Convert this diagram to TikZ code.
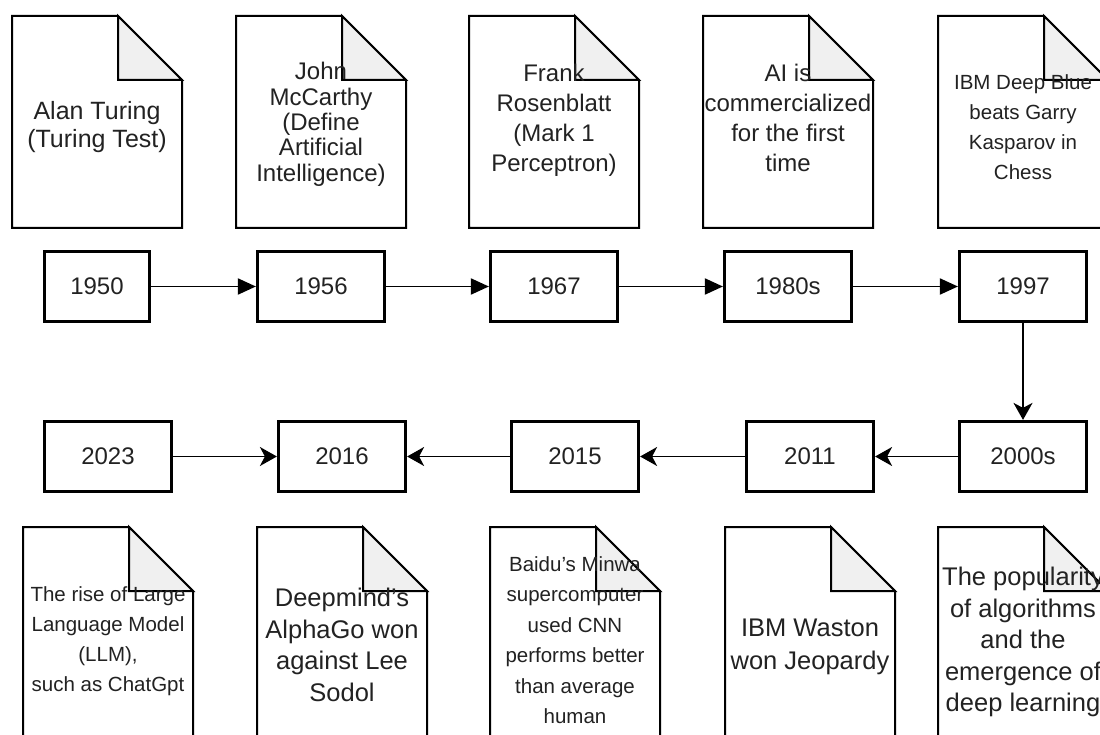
\documentclass[tikz,border=0pt]{standalone}
\usepackage{fontspec}
\setmainfont{Liberation Sans}
\usetikzlibrary{arrows.meta, positioning}
\definecolor{foldgray}{RGB}{240,240,240}
\definecolor{inkgray}{RGB}{34,34,34}
\tikzstyle{yearbox} = [rectangle, draw, line width=3.2pt, minimum height=70pt, text=inkgray, font=\fontsize{24}{26}\selectfont]
\tikzstyle{notepage} = [draw, line width=2pt, fill=white]
\tikzstyle{notefold} = [draw, line width=2pt, fill=foldgray]
\tikzstyle{bigtext} = [align=center, text=inkgray, font=\fontsize{24}{30}\selectfont]
\tikzstyle{midtext} = [align=center, text=inkgray, font=\fontsize{25.5}{31.5}\selectfont]
\tikzstyle{smalltext} = [align=center, text=inkgray, font=\fontsize{20.5}{30.5}\selectfont]
\tikzstyle{fwd} = [draw, line width=1.9pt, -{Triangle[length=18pt,width=16pt]}]
\tikzstyle{back} = [draw, line width=1.9pt, -{Stealth[length=17pt,width=19pt,inset=5pt]}]

% sheet with folded corner, #1,#2 = top left corner
\newcommand{\notesheet}[2]{
	\path [notepage] (#1,#2) -- ++(106,0) -- ++(64,64) -- ++(0,148) -- ++(-170,0) -- cycle;
	\path [notefold] (#1+106,#2) -- ++(0,64) -- ++(64,0) -- cycle;
}

\begin{document}
\begin{tikzpicture}[x=1pt, y=-1pt]
			\useasboundingbox (0,0) rectangle (1100,735);
			
			% first row
			\node [yearbox, minimum width=105pt] (y1950) at (97,286.5) {1950};
			\node [yearbox, minimum width=127pt] (y1956) at (321,286.5) {1956};
			\node [yearbox, minimum width=127pt] (y1967) at (554,286.5) {1967};
			\node [yearbox, minimum width=127pt] (y1980) at (788,286.5) {1980s};
			\node [yearbox, minimum width=127pt] (y1997) at (1023,286.5) {1997};
			
			% second row
			\node [yearbox, minimum width=127pt] (y2023) at (108,456.5) {2023};
			\node [yearbox, minimum width=127pt] (y2016) at (342,456.5) {2016};
			\node [yearbox, minimum width=127pt] (y2015) at (575,456.5) {2015};
			\node [yearbox, minimum width=127pt] (y2011) at (810,456.5) {2011};
			\node [yearbox, minimum width=127pt] (y2000) at (1023,456.5) {2000s};
			
			% top sheets
			\notesheet{12}{16}
			\node [bigtext, font=\fontsize{25}{28}\selectfont] (turing) at (97,127.5) {Alan Turing\\(Turing Test)};
			\notesheet{236}{16}
			\node [bigtext, font=\fontsize{24}{25.3}\selectfont] (mccarthy) at (321,124.3) {John\\McCarthy\\(Define\\Artificial\\Intelligence)};
			\notesheet{469}{16}
			\node [bigtext] (rosenblatt) at (554,120.3) {Frank\\Rosenblatt\\(Mark 1\\Perceptron)};
			\notesheet{703}{16}
			\node [bigtext] (commercial) at (788,117.8) {AI is\\commercialized\\for the first\\time};
			\notesheet{938}{16}
			\node [smalltext, font=\fontsize{20.5}{30}\selectfont] (deepblue) at (1023,127) {IBM Deep Blue\\beats Garry\\Kasparov in\\Chess};
			
			% bottom sheets
			\notesheet{23}{527}
			\node [smalltext, font=\fontsize{20.5}{30}\selectfont] (llm) at (108,641) {The rise of Large\\Language Model\\(LLM),\\such as ChatGpt};
			\notesheet{257}{527}
			\node [midtext] (alphago) at (342,645) {Deepmind’s\\AlphaGo won\\against Lee\\Sodol};
			\notesheet{490}{527}
			\node [smalltext] (minwa) at (575,640) {Baidu’s Minwa\\supercomputer\\used CNN\\performs better\\than average\\human};
			\notesheet{725}{527}
			\node [midtext, font=\fontsize{25.5}{33}\selectfont] (watson) at (810,647) {IBM Waston\\won Jeopardy};
			\notesheet{938}{527}
			\node [midtext] (deeplearn) at (1023,642) {The popularity\\of algorithms\\and the\\emergence of\\deep learning};
			
			\path [fwd] (y1950) -- (y1956);
			\path [fwd] (y1956) -- (y1967);
			\path [fwd] (y1967) -- (y1980);
			\path [fwd] (y1980) -- (y1997);
			\path [back] (y1997) -- (y2000);
			\path [back] (y2000) -- (y2011);
			\path [back] (y2011) -- (y2015);
			\path [back] (y2015) -- (y2016);
			\path [back] (y2023) -- (y2016);
		\end{tikzpicture}
\end{document}
